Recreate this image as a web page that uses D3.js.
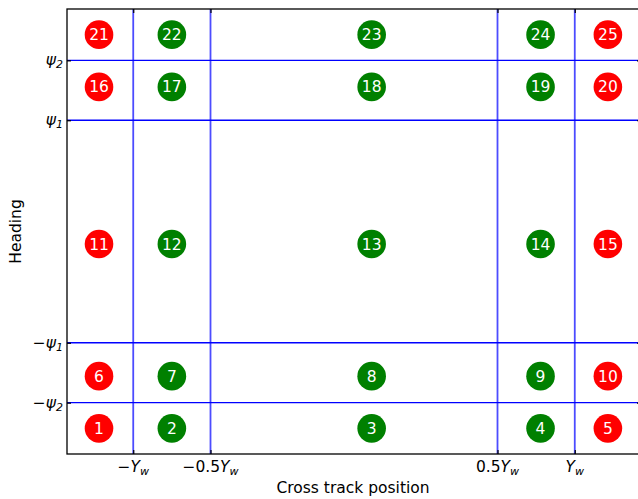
<!DOCTYPE html>
<html>
<head>
<meta charset="utf-8">
<script src="https://cdn.jsdelivr.net/npm/d3@7/dist/d3.min.js"></script>
<style>
  html, body { margin: 0; padding: 0; background: #fff; }
  svg { display: block; font-family: "DejaVu Sans", sans-serif; }
</style>
</head>
<body>
<svg id="chart" width="638" height="499"></svg>
<script>
// Cell centres along cross track position and heading (normalised units)
const colPositions = [-1.155, -0.825, 0.08, 0.845, 1.15];
const rowPositions = [-1.15, -0.845, -0.073, 0.845, 1.15];
// Zone state per column: boundary columns are out of bounds
const colStates = ["out", "in", "in", "in", "out"];

// Zone boundaries
const xBoundaries = [-1, -0.65, 0.65, 1];
const yBoundaries = [-1, -0.65, 0.65, 1];

// Tick labels: [sign, coefficient, symbol, subscript]
const xTickLabels = [["−", "", "Y", "w"], ["−", "0.5", "Y", "w"], ["", "0.5", "Y", "w"], ["", "", "Y", "w"]];
const yTickLabels = [["−", "", "ψ", "2"], ["−", "", "ψ", "1"], ["", "", "ψ", "1"], ["", "", "ψ", "2"]];

const stateColor = { out: "#ff0000", in: "#008000" };

const margin = { left: 67, top: 9, right: -3, bottom: 45 };
const width = 638, height = 499;
const svg = d3.select("#chart");

const x = d3.scaleLinear().domain([-1.3, 1.3]).range([margin.left, width - margin.right]);
const y = d3.scaleLinear().domain([-1.3, 1.3]).range([height - margin.bottom, margin.top]);

// Vertical boundaries
svg.append("g").selectAll("line").data(xBoundaries).join("line")
  .attr("x1", d => x(d)).attr("x2", d => x(d))
  .attr("y1", y(-1.3)).attr("y2", y(1.3))
  .attr("stroke", "#0000ff").attr("stroke-opacity", 0.7).attr("stroke-width", 1.8);

// Horizontal boundaries
svg.append("g").selectAll("line").data(yBoundaries).join("line")
  .attr("x1", x(-1.3)).attr("x2", x(1.3))
  .attr("y1", d => y(d)).attr("y2", d => y(d))
  .attr("stroke", "#0000ff").attr("stroke-width", 1.3);

// Cells
const cells = [];
rowPositions.forEach((ry, ri) => {
  colPositions.forEach((cx, ci) => {
    cells.push({ x: cx, y: ry, n: ri * colPositions.length + ci + 1, state: colStates[ci] });
  });
});

const g = svg.append("g").selectAll("g").data(cells).join("g")
  .attr("transform", d => `translate(${x(d.x)},${y(d.y)})`);
g.append("circle").attr("r", 14.3).attr("fill", d => stateColor[d.state]);
g.append("text").text(d => d.n)
  .attr("text-anchor", "middle").attr("dy", "0.36em")
  .attr("fill", "#fff").attr("font-size", 15.5);

// Axes with inward ticks on all sides
const xAxisB = d3.axisBottom(x).tickValues(xBoundaries).tickSize(-4).tickFormat("");
const xAxisT = d3.axisTop(x).tickValues(xBoundaries).tickSize(-4).tickFormat("");
const yAxisL = d3.axisLeft(y).tickValues(yBoundaries).tickSize(-4).tickFormat("");
const yAxisR = d3.axisRight(y).tickValues(yBoundaries).tickSize(-4).tickFormat("");

function styleAxis(sel) {
  sel.select(".domain").remove();
  sel.selectAll(".tick line").attr("stroke", "#000").attr("stroke-width", 1.2);
}
svg.append("g").attr("transform", `translate(0,${y(-1.3)})`).call(xAxisB).call(styleAxis);
svg.append("g").attr("transform", `translate(0,${y(1.3)})`).call(xAxisT).call(styleAxis);
svg.append("g").attr("transform", `translate(${x(-1.3)},0)`).call(yAxisL).call(styleAxis);
svg.append("g").attr("transform", `translate(${x(1.3)},0)`).call(yAxisR).call(styleAxis);

// Frame
svg.append("rect")
  .attr("x", x(-1.3)).attr("y", y(1.3))
  .attr("width", x(1.3) - x(-1.3)).attr("height", y(-1.3) - y(1.3))
  .attr("fill", "none").attr("stroke", "#000").attr("stroke-width", 1.3);

// Mathematical tick labels
function mathLabel(sel, lab) {
  const t = sel.append("text").attr("fill", "#000").attr("font-size", 15.5);
  if (lab[0]) t.append("tspan").text(lab[0]);
  if (lab[1]) t.append("tspan").text(lab[1]);
  t.append("tspan").attr("font-style", "italic").text(lab[2]);
  t.append("tspan").attr("font-style", "italic").attr("font-size", 11).attr("dy", 3).text(lab[3]);
  return t;
}

xBoundaries.forEach((v, i) => {
  const t = mathLabel(svg, xTickLabels[i]);
  t.attr("x", x(v)).attr("y", y(-1.3) + 18).attr("text-anchor", "middle");
});
yBoundaries.forEach((v, i) => {
  const t = mathLabel(svg, yTickLabels[i]);
  t.attr("x", x(-1.3) - 4).attr("y", y(v) + 5).attr("text-anchor", "end");
});

// Axis titles
svg.append("text").text("Cross track position")
  .attr("x", (x(-1.3) + x(1.3)) / 2 - 1).attr("y", 493)
  .attr("text-anchor", "middle").attr("font-size", 15.5).attr("fill", "#000");
svg.append("text").text("Heading")
  .attr("transform", `translate(21,${(y(-1.3) + y(1.3)) / 2}) rotate(-90)`)
  .attr("text-anchor", "middle").attr("font-size", 15.5).attr("fill", "#000");
</script>
</body>
</html>
